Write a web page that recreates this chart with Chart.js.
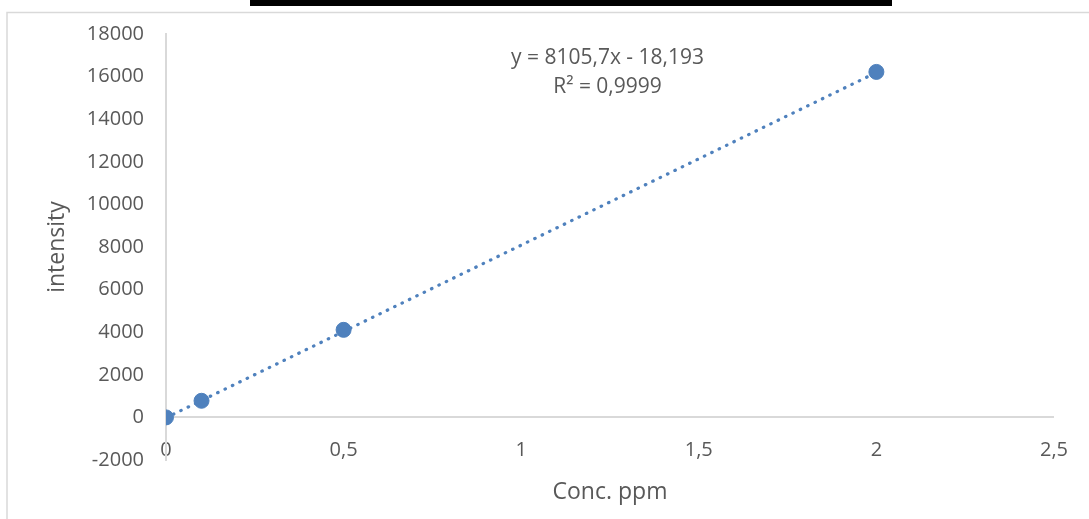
<!DOCTYPE html>
<html lang="en">
	<head>
		<meta charset="UTF-8" />
		<title>Calibration curve</title>
		<script src="https://cdn.jsdelivr.net/npm/chart.js@4.4.1/dist/chart.umd.min.js"></script>
		<style>
			body { margin: 0; background: #fff; }
		</style>
	</head>
	<body>
		<canvas id="myChart" width="1089" height="519"></canvas>

		<script>
			// measured points (Conc. ppm -> intensity)
			const conc = [0, 0.1, 0.5, 2];
			const intensity = [0, 780, 4110, 16220];

			// trendline as given in the chart label
			const slope = 8105.7;
			const inter = -18.193;
			const eqLines = ["y = 8105,7x - 18,193", "R² = 0,9999"];

			const xRange = [0, 2.5, 0.5];
			const yRange = [-2000, 18000, 2000];

			const blue = "#4f81bd";
			const axisGray = "#d9d9d9";
			const textGray = "#595959";
			const font = "'Open Sans'";

			const points = conc.map((x, i) => ({ x, y: intensity[i] }));
			const lastX = Math.max(...conc);
			const trend = [
				{ x: 0, y: inter },
				{ x: lastX, y: lastX * slope + inter },
			];

			const decorations = {
				id: "decorations",
				beforeDraw(chart) {
					const c = chart.ctx;
					c.save();
					c.fillStyle = "#fff";
					c.fillRect(0, 0, chart.width, chart.height);
					// frame
					c.strokeStyle = axisGray;
					c.lineWidth = 1.5;
					c.strokeRect(7, 12.5, chart.width + 20, chart.height + 20);
					// black bar over the top
					c.fillStyle = "#000";
					c.fillRect(250, 0, 642, 6);
					c.restore();
				},
				afterDraw(chart) {
					const c = chart.ctx;
					const xs = chart.scales.x;
					const ys = chart.scales.y;
					c.save();
					c.fillStyle = textGray;
					c.font = "21px " + font;
					c.textAlign = "center";
					c.textBaseline = "middle";
					const cx = xs.getPixelForValue(1.243);
					c.fillText(eqLines[0], cx, ys.getPixelForValue(16880));
					c.fillText(eqLines[1], cx, ys.getPixelForValue(15520));
					c.restore();
				},
			};

			new Chart(document.getElementById("myChart"), {
				type: "scatter",
				data: {
					datasets: [
						{
							label: "intensity",
							data: points,
							backgroundColor: blue,
							borderColor: blue,
							pointRadius: 7.5,
							order: 0,
						},
						{
							label: "trend",
							type: "line",
							data: trend,
							borderColor: blue,
							borderWidth: 3.2,
							borderDash: [0.5, 7.7],
							borderCapStyle: "round",
							pointRadius: 0,
							fill: false,
							order: 1,
						},
					],
				},
				options: {
					responsive: false,
					animation: false,
					layout: { padding: { left: 0, top: 27, right: 32, bottom: 59 } },
					plugins: { legend: { display: false }, tooltip: { enabled: false } },
					scales: {
						x: {
							type: "linear",
							position: { y: 0 },
							min: xRange[0],
							max: xRange[1],
							grid: { display: false, drawTicks: false },
							border: { display: true, color: axisGray, width: 2 },
							ticks: {
								stepSize: xRange[2],
								padding: 21,
								color: textGray,
								font: { family: font, size: 20 },
								callback: (v) => String(v).replace(".", ","),
							},
							title: {
								display: true,
								text: "Conc. ppm",
								color: textGray,
								font: { family: font, size: 23 },
								padding: { top: -5, bottom: 0 },
							},
						},
						y: {
							min: yRange[0],
							max: yRange[1],
							grid: { display: false, drawTicks: false },
							border: { display: true, color: axisGray, width: 2 },
							ticks: {
								stepSize: yRange[2],
								padding: 22,
								color: textGray,
								font: { family: font, size: 20 },
								callback: (v) => String(v),
							},
							title: {
								display: true,
								text: "intensity",
								color: textGray,
								font: { family: font, size: 23 },
								padding: { top: 44, bottom: 0 },
							},
							afterFit: (scale) => {
								scale.width = 166;
							},
						},
					},
				},
				plugins: [decorations],
			});
		</script>
	</body>
</html>
